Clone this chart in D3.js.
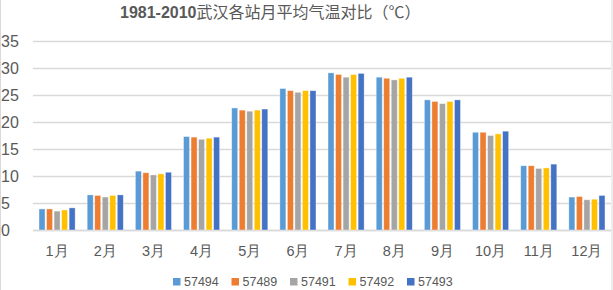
<!DOCTYPE html>
<html>
<head>
<meta charset="utf-8">
<script src="https://cdn.jsdelivr.net/npm/d3@7"></script>
<style>
  body { margin: 0; background: #fff; }
  svg { display: block; }
  .charts__text { fill: #595959; font-family: "Liberation Sans", Arial, sans-serif; }
</style>
</head>
<body>
<div id="chart" style="width:613px;height:290px"></div>
<script>
// month categories and station series
const months = ['1月', '2月', '3月', '4月', '5月', '6月', '7月', '8月', '9月', '10月', '11月', '12月'];
const stations = ['57494', '57489', '57491', '57492', '57493'];
const s57494 = [3.9, 6.5, 10.9, 17.3, 22.6, 26.2, 29.1, 28.3, 24.1, 18.1, 11.9, 6.1];
const s57489 = [3.9, 6.4, 10.6, 17.2, 22.2, 25.8, 28.8, 28.1, 23.8, 18.1, 11.9, 6.2];
const s57491 = [3.5, 6.1, 10.2, 16.8, 22.0, 25.5, 28.3, 27.8, 23.4, 17.5, 11.4, 5.6];
const s57492 = [3.7, 6.4, 10.4, 17.0, 22.2, 25.8, 28.8, 28.1, 23.8, 17.8, 11.5, 5.7];
const s57493 = [4.1, 6.5, 10.7, 17.2, 22.4, 25.8, 29.0, 28.3, 24.1, 18.3, 12.2, 6.4];
const yTicks = [0, 5, 10, 15, 20, 25, 30, 35];
const title = '武汉各站月平均气温对比（℃）';
const titleYears = '1981-2010';

const series = [s57494, s57489, s57491, s57492, s57493];
const data = months.map((m, i) => {
    const row = {month: m};
    stations.forEach((s, j) => row[s] = series[j][i]);
    return row;
});

const parent = document.getElementById('chart'),
      svgWidth = 613,
      svgHeight = 290,
      svg = d3.select(parent).append('svg')
          .attr('width', svgWidth).attr('height', svgHeight);

const margin = {top: 41, right: 2, bottom: 60, left: 33},
      width = svgWidth - margin.left - margin.right,
      height = svgHeight - margin.top - margin.bottom;

// outer frame of the chart
svg.append('rect')
    .attr('x', 0.5).attr('y', -2)
    .attr('width', svgWidth - 1.5).attr('height', svgHeight + 4)
    .attr('fill', 'none').attr('stroke', '#d9d9d9');

const g = svg.append('g')
    .attr('transform', `translate(${margin.left},${margin.top})`);

const color = d3.scaleOrdinal()
    .domain(stations)
    .range(['#5b9bd5', '#ed7d31', '#a5a5a5', '#ffc000', '#4472c4']);

const x0 = d3.scaleBand()
    .domain(months)
    .range([0, width])
    .paddingInner(0.25)
    .paddingOuter(0.125);

const x1 = d3.scaleBand()
    .domain(stations)
    .range([0, x0.bandwidth()])
    .paddingInner(0.2);

const y = d3.scaleLinear()
    .domain([0, 35])
    .range([height, 0]);

// Y axis with gridlines
const yAxis = g.append('g')
    .call(d3.axisLeft(y).tickValues(yTicks).tickSize(-width).tickPadding(0));
yAxis.select('.domain').remove();
yAxis.selectAll('line').attr('stroke', '#d9d9d9').attr('stroke-width', 1.5);
yAxis.selectAll('text')
    .attr('class', 'charts__text')
    .attr('text-anchor', 'start')
    .attr('x', -margin.left + 1)
    .attr('dy', '0.36em')
    .style('font-size', '16px');

// X axis
const xAxis = g.append('g')
    .attr('transform', `translate(0,${height})`)
    .call(d3.axisBottom(x0).tickSize(0));
xAxis.select('.domain').attr('stroke', '#d9d9d9').attr('stroke-width', 1.5);
xAxis.selectAll('text')
    .attr('class', 'charts__text')
    .attr('y', 26)
    .attr('dy', 0)
    .style('font-size', '14.5px');

// bars
const groups = g.append('g')
    .attr('class', 'charts__data')
    .selectAll('g')
    .data(data)
    .join('g')
    .attr('transform', d => `translate(${x0(d.month)},0)`);

groups.selectAll('rect')
    .data(d => stations.map(key => ({key, value: d[key]})))
    .join('rect')
    .attr('x', d => x1(d.key))
    .attr('y', d => y(d.value))
    .attr('width', x1.bandwidth())
    .attr('height', d => y(0) - y(d.value))
    .attr('fill', d => color(d.key))
    .attr('stroke', '#fff')
    .attr('stroke-opacity', 0.5)
    .attr('stroke-width', 0.75);

// title
const t = svg.append('text')
    .attr('class', 'charts__text')
    .attr('x', 120)
    .attr('y', 18)
    .style('font-size', '16px');
t.append('tspan')
    .style('font-weight', 'bold')
    .text(titleYears);
t.append('tspan')
    .style('font-family', '"Noto Sans CJK SC", sans-serif')
    .text(title);

// legend
const legend = svg.append('g')
    .attr('transform', 'translate(173,278)');
const items = legend.selectAll('g')
    .data(stations)
    .join('g')
    .attr('transform', (d, i) => `translate(${i * 58.5},0)`);
items.append('rect')
    .attr('width', 7.5).attr('height', 7.5)
    .attr('fill', d => color(d));
items.append('text')
    .attr('class', 'charts__text')
    .attr('x', 11)
    .attr('y', 8)
    .style('font-size', '12.5px')
    .text(d => d);
</script>
</body>
</html>
